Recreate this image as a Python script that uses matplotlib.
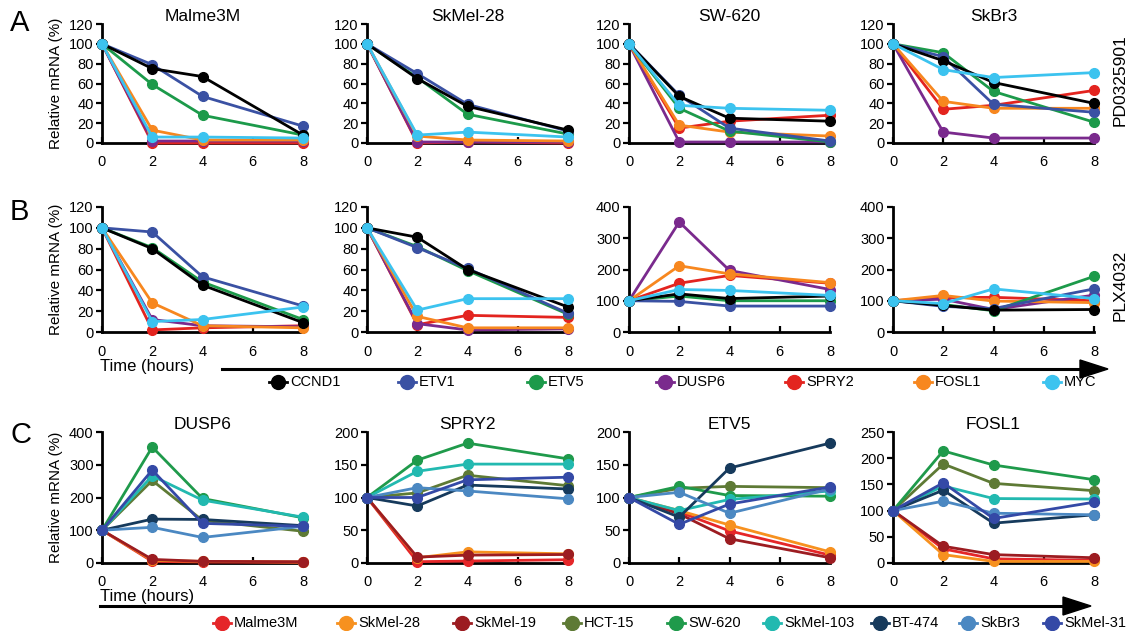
import matplotlib
matplotlib.use("Agg")
import matplotlib.pyplot as plt
from matplotlib.patches import Polygon

plt.rcParams['font.family'] = ['Liberation Sans', 'DejaVu Sans']

W, H = 1130, 631
fig = plt.figure(figsize=(W / 100, H / 100), dpi=100)

times = [0, 2, 4, 8]
xticks = [0, 2, 4, 6, 8]

genes = ['CCND1', 'ETV1', 'ETV5', 'DUSP6', 'SPRY2', 'FOSL1', 'MYC']
gene_colors = ['#000000', '#3a51a3', '#1c9a4a', '#7a2a8d', '#e3241f', '#f7871f', '#3cc3ef']

# Panel A (PD0325901)
pd_titles = ['Malme3M', 'SkMel-28', 'SW-620', 'SkBr3']
pd_malme3m = {
    'CCND1': [100, 75, 67, 8], 'ETV1': [100, 79, 47, 17], 'ETV5': [100, 59, 28, 8],
    'DUSP6': [100, 2, 2, 2], 'SPRY2': [100, 0, 0, 0], 'FOSL1': [100, 13, 3, 3],
    'MYC': [100, 6, 6, 5]}
pd_skmel28 = {
    'CCND1': [100, 65, 37, 13], 'ETV1': [100, 70, 39, 12], 'ETV5': [100, 66, 29, 9],
    'DUSP6': [100, 1, 1, 1], 'SPRY2': [100, 0, 1, 0], 'FOSL1': [100, 7, 3, 2],
    'MYC': [100, 8, 11, 6]}
pd_sw620 = {
    'CCND1': [100, 47, 25, 22], 'ETV1': [100, 48, 15, 2], 'ETV5': [100, 35, 12, 1],
    'DUSP6': [100, 1, 1, 1], 'SPRY2': [100, 15, 22, 28], 'FOSL1': [100, 18, 11, 7],
    'MYC': [100, 38, 35, 33]}
pd_skbr3 = {
    'CCND1': [100, 83, 61, 40], 'ETV1': [100, 87, 39, 31], 'ETV5': [100, 91, 52, 21],
    'DUSP6': [100, 11, 5, 5], 'SPRY2': [100, 34, 38, 53], 'FOSL1': [100, 42, 35, 35],
    'MYC': [100, 74, 66, 71]}

# Panel B (PLX4032)
plx_malme3m = {
    'CCND1': [100, 80, 45, 9], 'ETV1': [100, 96, 53, 25], 'ETV5': [100, 81, 48, 12],
    'DUSP6': [100, 12, 6, 5], 'SPRY2': [100, 2, 4, 6], 'FOSL1': [100, 28, 6, 4],
    'MYC': [100, 10, 12, 24]}
plx_skmel28 = {
    'CCND1': [100, 91, 60, 24], 'ETV1': [100, 81, 61, 18], 'ETV5': [100, 82, 59, 17],
    'DUSP6': [100, 8, 2, 3], 'SPRY2': [100, 7, 16, 14], 'FOSL1': [100, 15, 4, 4],
    'MYC': [100, 21, 32, 32]}
plx_sw620 = {
    'CCND1': [100, 122, 107, 115], 'ETV1': [100, 98, 83, 83], 'ETV5': [100, 115, 100, 100],
    'DUSP6': [100, 352, 197, 136], 'SPRY2': [100, 156, 181, 156], 'FOSL1': [100, 212, 186, 158],
    'MYC': [100, 136, 133, 117]}
plx_skbr3 = {
    'CCND1': [100, 85, 70, 72], 'ETV1': [100, 82, 75, 138], 'ETV5': [100, 88, 68, 178],
    'DUSP6': [100, 105, 72, 118], 'SPRY2': [100, 110, 111, 100], 'FOSL1': [100, 117, 99, 94],
    'MYC': [100, 91, 138, 107]}

# Panel C (PLX4032 by gene)
cells = ['Malme3M', 'SkMel-28', 'SkMel-19', 'HCT-15', 'SW-620', 'SkMel-103', 'BT-474', 'SkBr3', 'SkMel-31']
cell_colors = ['#e52629', '#f7911f', '#9c1c21', '#5e7a35', '#1f9a4b', '#22b9b0', '#163a5c', '#4b88c2', '#3449a6']
c_titles = ['DUSP6', 'SPRY2', 'ETV5', 'FOSL1']
c_dusp6 = {
    'Malme3M': [100, 5, 3, 2], 'SkMel-28': [100, 8, 5, 3], 'SkMel-19': [100, 11, 5, 4],
    'HCT-15': [100, 252, 130, 97], 'SW-620': [100, 354, 197, 138], 'SkMel-103': [100, 266, 192, 140],
    'BT-474': [100, 134, 133, 114], 'SkBr3': [100, 109, 78, 112], 'SkMel-31': [100, 284, 121, 112]}
c_spry2 = {
    'Malme3M': [100, 2, 3, 5], 'SkMel-28': [100, 8, 17, 14], 'SkMel-19': [100, 9, 12, 13],
    'HCT-15': [100, 107, 134, 118], 'SW-620': [100, 157, 183, 159], 'SkMel-103': [100, 140, 151, 151],
    'BT-474': [100, 87, 119, 113], 'SkBr3': [100, 115, 110, 98], 'SkMel-31': [100, 100, 127, 131]}
c_etv5 = {
    'Malme3M': [100, 78, 49, 12], 'SkMel-28': [100, 80, 58, 17], 'SkMel-19': [100, 75, 37, 8],
    'HCT-15': [100, 114, 117, 115], 'SW-620': [100, 117, 103, 102], 'SkMel-103': [100, 80, 97, 110],
    'BT-474': [100, 70, 145, 183], 'SkBr3': [100, 108, 76, 113], 'SkMel-31': [100, 59, 90, 116]}
c_fosl1 = {
    'Malme3M': [100, 27, 8, 5], 'SkMel-28': [100, 16, 3, 3], 'SkMel-19': [100, 32, 16, 10],
    'HCT-15': [100, 189, 152, 138], 'SW-620': [100, 214, 187, 159], 'SkMel-103': [100, 147, 123, 122],
    'BT-474': [100, 139, 76, 92], 'SkBr3': [100, 118, 95, 92], 'SkMel-31': [100, 153, 85, 116]}

col_x = [102, 367, 629, 893]
col_w = 201
rows = {'A': (24, 143), 'B': (207, 332), 'C': (432, 563)}


def make_ax(ci, row):
    top, bot = rows[row]
    ax = fig.add_axes([col_x[ci] / W, 1 - bot / H, col_w / W, (bot - top) / H])
    for s in ['top', 'right']:
        ax.spines[s].set_visible(False)
    for s in ['left', 'bottom']:
        ax.spines[s].set_linewidth(2.0)
    ax.tick_params(width=1.6, length=4, labelsize=10.5, pad=2)
    ax.tick_params(axis='x', direction='in', length=4, pad=9)
    ax.set_xlim(0, 8)
    ax.set_xticks(xticks)
    return ax


def draw(ax, data, names, colors, order=None):
    keys = order if order else names
    for k in keys:
        c = colors[names.index(k)]
        ax.plot(times, data[k], color=c, lw=2.0, marker='o', ms=7, clip_on=False, zorder=3)


gene_order = ['SPRY2', 'DUSP6', 'FOSL1', 'ETV5', 'ETV1', 'CCND1', 'MYC']
A_data = [pd_malme3m, pd_skmel28, pd_sw620, pd_skbr3]
B_data = [plx_malme3m, plx_skmel28, plx_sw620, plx_skbr3]
B_ylim = [(120, 20), (120, 20), (400, 100), (400, 100)]

for i in range(4):
    ax = make_ax(i, 'A')
    draw(ax, A_data[i], genes, gene_colors, gene_order)
    ax.set_ylim(0, 120)
    ax.set_yticks(range(0, 121, 20))
    ax.set_title(pd_titles[i], fontsize=12.5, pad=2)
    if i == 0:
        ax.set_ylabel('Relative mRNA (%)', fontsize=11, labelpad=4)

for i in range(4):
    ax = make_ax(i, 'B')
    draw(ax, B_data[i], genes, gene_colors, gene_order)
    top, step = B_ylim[i]
    ax.set_ylim(0, top)
    ax.set_yticks(range(0, top + 1, step))
    if i == 0:
        ax.set_ylabel('Relative mRNA (%)', fontsize=11, labelpad=4)

C_data = [c_dusp6, c_spry2, c_etv5, c_fosl1]
C_ylim = [(400, 100), (200, 50), (200, 50), (250, 50)]
for i in range(4):
    ax = make_ax(i, 'C')
    draw(ax, C_data[i], cells, cell_colors)
    top, step = C_ylim[i]
    ax.set_ylim(0, top)
    ax.set_yticks(range(0, top + 1, step))
    ax.set_title(c_titles[i], fontsize=12.5, pad=2)
    if i == 0:
        ax.set_ylabel('Relative mRNA (%)', fontsize=11, labelpad=4)

# Overlay for annotations, arrows and legends (pixel coordinates)
ov = fig.add_axes([0, 0, 1, 1], zorder=-1)
ov.set_xlim(0, W)
ov.set_ylim(H, 0)
ov.axis('off')

for lbl, y in [('A', 23), ('B', 212), ('C', 435)]:
    ov.text(10, y, lbl, fontsize=21, va='center', ha='left')

ov.text(1120, 80, 'PD0325901', rotation=90, fontsize=12.5, va='center', ha='center')
ov.text(1120, 285, 'PLX4032', rotation=90, fontsize=12.5, va='center', ha='center')

ov.text(100, 367, 'Time (hours)', fontsize=12, va='center', ha='left')
ov.text(100, 597, 'Time (hours)', fontsize=12, va='center', ha='left')

# arrows
ov.plot([222, 1085], [369, 369], color='black', lw=2.2)
ov.add_patch(Polygon([[1080, 360], [1108, 369], [1080, 378]], closed=True, color='black'))
ov.plot([100, 1068], [606, 606], color='black', lw=2.2)
ov.add_patch(Polygon([[1063, 597], [1091, 606], [1063, 615]], closed=True, color='black'))

# legends
gene_x = [278, 407, 536, 665, 794, 923, 1052]
for x, g, c in zip(gene_x, genes, gene_colors):
    ov.plot([x - 9, x + 9], [382, 382], color=c, lw=2, zorder=5)
    ov.plot([x], [382], marker='o', ms=10, color=c, zorder=5)
    ov.text(x + 12, 382, g, fontsize=10.5, va='center', ha='left')

cell_x = [222, 346, 462, 572, 676, 772, 880, 968, 1052]
for x, n, c in zip(cell_x, cells, cell_colors):
    ov.plot([x - 9, x + 9], [623, 623], color=c, lw=2, zorder=5)
    ov.plot([x], [623], marker='o', ms=10, color=c, zorder=5)
    ov.text(x + 12, 623, n, fontsize=10.5, va='center', ha='left')

fig.savefig('out.png', dpi=100)
